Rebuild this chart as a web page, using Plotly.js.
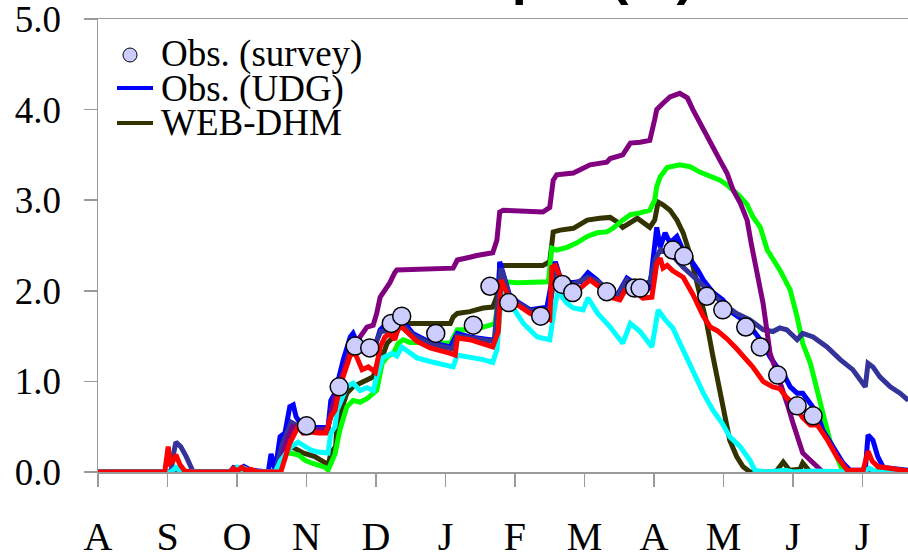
<!DOCTYPE html>
<html>
<head>
<meta charset="utf-8">
<script src="https://cdn.plot.ly/plotly-3.0.1.min.js"></script>
<style>html,body{margin:0;padding:0;background:#fff;}#chart{width:908px;height:555px;}</style>
</head>
<body>
<div id="chart"></div>
<script>
// x positions are in month units (0 = start of August, 1 = start of September, ...)
const monthTicks = [0,1,2,3,4,5,6,7,8,9,10,11];
const monthLabels = ['A','S','O','N','D','J','F','M','A','M','J','J'];
const yTicks = [0,1,2,3,4,5];
const yLabels = ['0.0','1.0','2.0','3.0','4.0','5.0'];

// Obs. (survey)
const surveyX = [3.00,3.47,3.70,3.91,4.22,4.37,4.86,5.40,5.64,5.91,6.37,6.68,6.83,7.32,7.72,7.80,8.27,8.43,8.76,8.99,9.32,9.53,9.78,10.06,10.29];
const surveyY = [0.51,0.94,1.39,1.37,1.64,1.72,1.53,1.62,2.05,1.87,1.72,2.07,1.98,1.99,2.03,2.03,2.45,2.38,1.94,1.79,1.60,1.38,1.07,0.73,0.62];

// Obs. (UDG) - blue
const udgX = [0,1.0,1.1,1.3,1.9,1.95,2.05,2.1,2.2,2.45,2.49,2.55,2.62,2.69,2.76,2.81,2.85,2.91,3.07,3.31,3.35,3.41,3.53,3.63,3.67,3.77,3.87,3.96,4.06,4.10,4.20,4.32,4.37,4.53,4.78,5.07,5.17,5.35,5.64,5.71,5.76,5.78,5.93,6.22,6.46,6.53,6.58,6.65,6.79,6.94,7.05,7.18,7.32,7.47,7.61,7.76,7.90,7.94,8.04,8.09,8.16,8.23,8.33,8.40,8.52,8.63,8.71,8.85,8.99,9.14,9.28,9.42,9.57,9.67,9.77,9.86,9.96,10.06,10.14,10.25,10.35,10.43,10.58,10.72,10.82,11.04,11.08,11.15,11.22,11.30,11.66];
const udgY = [0,0,0.03,0,0,0.05,0.03,0.06,0.02,0,0.20,0.02,0.39,0.43,0.72,0.74,0.61,0.54,0.49,0.49,0.79,0.87,1.24,1.49,1.53,1.35,1.33,1.32,1.57,1.60,1.57,1.62,1.68,1.53,1.43,1.38,1.53,1.49,1.46,1.46,1.82,2.32,1.93,1.79,1.82,2.09,2.32,2.15,2.09,2.10,2.20,2.12,2.01,1.95,2.14,2.06,2.01,2.03,2.70,2.48,2.64,2.53,2.60,2.48,2.36,2.23,2.12,1.98,1.90,1.75,1.68,1.57,1.42,1.27,1.16,1.09,0.94,0.87,0.87,0.76,0.65,0.46,0.28,0.10,0.02,0.02,0.41,0.35,0.17,0.05,0.02];

// WEB-DHM - dark olive
const webX = [0,2.60,2.69,2.78,2.88,2.95,3.12,3.27,3.31,3.35,3.42,3.44,3.58,3.67,3.77,3.87,3.96,4.01,4.09,4.16,4.25,4.32,4.35,5.07,5.11,5.17,5.35,5.54,5.68,5.76,5.78,6.40,6.50,6.55,6.65,6.84,6.98,7.04,7.22,7.37,7.47,7.55,7.76,7.84,7.94,8.01,8.06,8.13,8.23,8.33,8.42,8.52,8.66,8.76,8.85,8.95,9.02,9.09,9.19,9.28,9.38,9.75,9.86,9.95,10.10,10.14,10.25,11.66];
const webY = [0,0,0.20,0.28,0.24,0.21,0.17,0.10,0.06,0.21,0.28,0.54,0.87,0.94,0.98,1.01,1.05,1.18,1.27,1.42,1.49,1.57,1.64,1.64,1.71,1.75,1.77,1.81,1.82,1.98,2.28,2.28,2.32,2.65,2.67,2.69,2.75,2.78,2.80,2.81,2.76,2.70,2.80,2.76,2.70,2.78,2.98,2.95,2.89,2.78,2.64,2.40,1.98,1.64,1.27,0.90,0.61,0.35,0.17,0.06,0,0,0.11,0.02,0.03,0.10,0,0];

// other simulations (not in legend)
const redX = [0,0.96,1.01,1.04,1.08,1.12,1.18,1.25,1.35,1.90,1.95,2.00,2.07,2.12,2.20,2.30,2.63,2.69,2.76,2.84,2.88,2.95,3.07,3.17,3.28,3.35,3.41,3.48,3.63,3.70,3.80,3.89,3.99,4.06,4.13,4.20,4.27,4.32,4.37,4.59,4.78,5.07,5.14,5.17,5.35,5.60,5.68,5.76,5.80,5.93,6.07,6.22,6.40,6.50,6.53,6.58,6.65,6.79,6.94,7.08,7.22,7.37,7.51,7.58,7.76,7.84,7.97,8.04,8.09,8.13,8.19,8.27,8.42,8.56,8.71,8.81,8.91,9.05,9.19,9.34,9.42,9.57,9.71,9.81,9.91,10.00,10.14,10.25,10.35,10.49,10.63,10.78,11.01,11.08,11.14,11.22,11.50,11.66];
const redY = [0,0,0.28,0.10,0.12,0.19,0.08,0.01,0,0,0.04,0.01,0.05,0.02,0.03,0,0,0.17,0.32,0.44,0.50,0.43,0.44,0.43,0.43,0.61,0.68,0.94,1.29,1.31,1.13,1.16,1.10,1.38,1.49,1.53,1.46,1.59,1.60,1.44,1.37,1.31,1.29,1.48,1.46,1.40,1.38,1.55,2.12,1.90,1.82,1.75,1.70,1.68,2.26,2.28,2.15,2.04,2.03,2.12,2.04,1.93,1.90,2.00,1.97,1.92,1.93,2.30,2.36,2.25,2.28,2.22,2.15,1.96,1.72,1.60,1.56,1.47,1.36,1.24,1.16,1.00,0.94,0.92,0.82,0.76,0.60,0.52,0.52,0.36,0.17,0.02,0.02,0.23,0.12,0.06,0.02,0.01];

const navyX = [0,1.05,1.08,1.12,1.19,1.27,1.37,1.90,1.95,2.10,2.25,2.55,2.65,2.78,2.90,3.10,3.30,3.40,3.55,3.66,3.80,3.95,4.07,4.20,4.37,4.55,4.80,5.10,5.17,5.40,5.70,5.80,5.93,6.22,6.50,6.58,6.65,6.80,7.05,7.20,7.35,7.47,7.61,7.75,7.94,8.02,8.09,8.23,8.42,8.62,8.81,8.99,9.19,9.38,9.57,9.71,9.81,9.91,10.06,10.14,10.29,10.49,10.68,10.86,11.04,11.08,11.15,11.25,11.40,11.54,11.66];
const navyY = [0,0,0.17,0.33,0.28,0.17,0,0,0.04,0.05,0,0,0.30,0.55,0.50,0.47,0.47,0.80,1.15,1.45,1.36,1.35,1.55,1.56,1.63,1.50,1.41,1.36,1.50,1.47,1.44,2.25,1.92,1.78,1.80,2.25,2.15,2.06,2.15,2.10,2.00,1.95,2.12,2.05,2.10,2.35,2.45,2.42,2.26,2.12,1.98,1.86,1.75,1.68,1.57,1.55,1.59,1.57,1.46,1.53,1.49,1.38,1.24,1.13,0.94,1.20,1.16,1.05,0.94,0.87,0.79];

const purpleX = [0,2.60,2.70,2.80,2.95,3.10,3.30,3.40,3.55,3.66,3.77,3.87,3.96,4.01,4.06,4.13,4.20,4.27,4.30,5.11,5.17,5.35,5.45,5.68,5.74,5.78,5.83,6.40,6.50,6.55,6.60,6.84,6.98,7.08,7.32,7.37,7.55,7.66,7.80,7.94,8.01,8.04,8.13,8.23,8.37,8.48,8.56,8.66,8.76,8.85,8.95,9.05,9.14,9.24,9.34,9.40,9.48,9.57,9.63,9.67,9.77,9.86,9.93,10.00,10.07,10.14,10.25,10.35,10.43,11.66];
const purpleY = [0,0,0.30,0.50,0.47,0.46,0.46,0.80,1.15,1.40,1.49,1.60,1.62,1.75,1.93,2.01,2.09,2.20,2.23,2.25,2.34,2.37,2.39,2.42,2.56,2.87,2.89,2.87,2.92,3.22,3.28,3.30,3.36,3.39,3.42,3.46,3.50,3.63,3.64,3.66,3.89,4.00,4.07,4.14,4.18,4.13,4.00,3.85,3.70,3.59,3.44,3.30,3.11,2.97,2.78,2.52,2.20,1.86,1.53,1.31,1.09,0.90,0.72,0.54,0.35,0.21,0.13,0.06,0,0];

const greenX = [0,2.58,2.65,2.75,2.88,2.98,3.07,3.17,3.27,3.31,3.35,3.41,3.48,3.58,3.67,3.77,3.87,4.01,4.09,4.16,4.25,4.32,4.39,4.49,4.68,4.88,5.07,5.17,5.40,5.64,5.71,5.74,5.83,6.03,6.40,6.48,6.53,6.60,6.75,6.89,7.04,7.18,7.32,7.41,7.55,7.66,7.80,7.94,8.01,8.04,8.09,8.19,8.37,8.52,8.66,8.81,8.95,9.05,9.14,9.24,9.34,9.42,9.53,9.63,9.81,9.96,10.06,10.14,10.25,10.35,10.43,10.53,10.63,10.71,11.66];
const greenY = [0,0,0.18,0.21,0.19,0.13,0.10,0.08,0.05,0.02,0.10,0.20,0.46,0.72,0.79,0.77,0.81,0.90,1.20,1.27,1.31,1.42,1.46,1.43,1.43,1.42,1.42,1.57,1.57,1.62,1.64,1.79,2.10,2.09,2.09,2.10,2.47,2.45,2.48,2.53,2.60,2.64,2.65,2.69,2.78,2.84,2.86,2.89,3.00,3.15,3.26,3.36,3.39,3.37,3.31,3.26,3.22,3.17,3.11,3.04,2.95,2.82,2.70,2.45,2.23,2.01,1.71,1.42,1.20,0.90,0.61,0.35,0.17,0.02,0];

const cyanX = [0,1.05,1.12,1.20,1.95,2.00,2.06,2.10,2.20,2.55,2.63,2.78,2.88,2.98,3.07,3.17,3.31,3.35,3.41,3.44,3.58,3.67,3.77,3.87,3.96,4.01,4.10,4.23,4.30,4.37,4.59,4.78,4.96,5.11,5.17,5.35,5.54,5.68,5.74,5.81,5.96,6.12,6.32,6.46,6.50,6.58,6.62,6.75,6.84,6.98,7.05,7.19,7.37,7.55,7.66,7.80,7.97,8.06,8.16,8.27,8.42,8.56,8.71,8.85,8.98,9.09,9.24,9.38,9.45,9.60,9.90,10.00,10.30,11.00,11.10,11.20,11.66];
const cyanY = [0,0,0.05,0,0,0.05,0.02,0.04,0,0,0.13,0.28,0.33,0.28,0.24,0.22,0.21,0.43,0.50,0.68,0.94,0.98,0.90,0.93,0.90,1.05,1.26,1.31,1.28,1.38,1.26,1.22,1.18,1.16,1.29,1.27,1.24,1.21,1.35,2.00,1.82,1.64,1.49,1.46,1.46,1.86,1.99,1.86,1.81,1.79,1.92,1.75,1.60,1.42,1.64,1.55,1.38,1.79,1.68,1.59,1.35,1.13,0.87,0.68,0.54,0.39,0.28,0.13,0.02,0,0.02,0,0.01,0,0.04,0,0];

const serif = '"Liberation Serif", "Times New Roman", serif';
function line(x, y, color, name, width) {
  return {x: x, y: y, type: 'scatter', mode: 'lines', name: name, showlegend: false,
          line: {color: color, width: width || 5}, hoverinfo: 'skip'};
}
const traces = [
  line(webX, webY, '#333300', 'WEB-DHM'),
  line(greenX, greenY, '#00ff00', 'Sim. 2'),
  line(udgX, udgY, '#0000ff', 'Obs. (UDG)'),
  line(navyX, navyY, '#333399', 'Sim. 1'),
  line(purpleX, purpleY, '#800080', 'Sim. 3'),
  line(cyanX, cyanY, '#00ffff', 'Sim. 4'),
  line(redX, redY, '#ff0000', 'Sim. 5'),
  {x: surveyX, y: surveyY, type: 'scatter', mode: 'markers', name: 'Obs. (survey)', showlegend: false,
   marker: {size: 18, color: '#ccccff', line: {color: '#000000', width: 1.5}}, hoverinfo: 'skip'}
];

const px2x = p => (p - 98) / 810;
const py2y = p => (472 - p) / 453;
const legendFont = {family: serif, size: 37, color: '#000'};
const layout = {
  width: 908, height: 555,
  margin: {l: 98, r: 0, t: 19, b: 83, pad: 0},
  paper_bgcolor: '#fff', plot_bgcolor: '#fff',
  showlegend: false,
  title: {text: '<b>Snow depth (m)</b>', font: {family: '"Liberation Sans", Arial, sans-serif', size: 54, color: '#000'},
          x: 0.542, xanchor: 'center', xref: 'container', y: 1, yanchor: 'bottom', yref: 'container', pad: {b: 6, t: 0, l: 0, r: 0}},
  xaxis: {range: [0, 11.655], tickmode: 'array', tickvals: monthTicks, ticktext: monthLabels,
          showgrid: false, zeroline: false, showline: true, linecolor: '#9a9a9a', linewidth: 1.5, mirror: true,
          ticks: 'outside', ticklen: 13, tickcolor: '#9a9a9a', tickwidth: 1.5, ticklabeloverflow: 'allow',
          tickfont: {family: serif, size: 40, color: '#000'}, ticklabelstandoff: 15},
  yaxis: {range: [0, 5], tickmode: 'array', tickvals: yTicks, ticktext: yLabels,
          showgrid: false, zeroline: false, showline: true, linecolor: '#9a9a9a', linewidth: 1.5,
          ticks: 'outside', ticklen: 13, tickcolor: '#9a9a9a', tickwidth: 1.5, ticklabeloverflow: 'allow',
          tickfont: {family: serif, size: 37, color: '#000'}, ticklabelstandoff: 15},
  shapes: [
    {type: 'line', xref: 'paper', yref: 'paper', x0: px2x(117), x1: px2x(153), y0: py2y(88), y1: py2y(88), line: {color: '#0000ff', width: 4}},
    {type: 'line', xref: 'paper', yref: 'paper', x0: px2x(117), x1: px2x(153), y0: py2y(123), y1: py2y(123), line: {color: '#333300', width: 4}},
    {type: 'circle', xref: 'paper', yref: 'paper', xsizemode: 'pixel', ysizemode: 'pixel',
     xanchor: px2x(130), yanchor: py2y(55), x0: -7, x1: 7, y0: -7, y1: 7,
     fillcolor: '#ccccff', line: {color: '#000', width: 1}}
  ],
  annotations: [
    {text: 'Obs. (survey)', xref: 'paper', yref: 'paper', x: px2x(159), y: py2y(54), xanchor: 'left', yanchor: 'middle', showarrow: false, font: legendFont},
    {text: 'Obs. (UDG)', xref: 'paper', yref: 'paper', x: px2x(159), y: py2y(89), xanchor: 'left', yanchor: 'middle', showarrow: false, font: legendFont},
    {text: 'WEB-DHM', xref: 'paper', yref: 'paper', x: px2x(159), y: py2y(123), xanchor: 'left', yanchor: 'middle', showarrow: false, font: legendFont}
  ]
};
Plotly.newPlot('chart', traces, layout, {staticPlot: true, displayModeBar: false});
</script>
</body>
</html>
